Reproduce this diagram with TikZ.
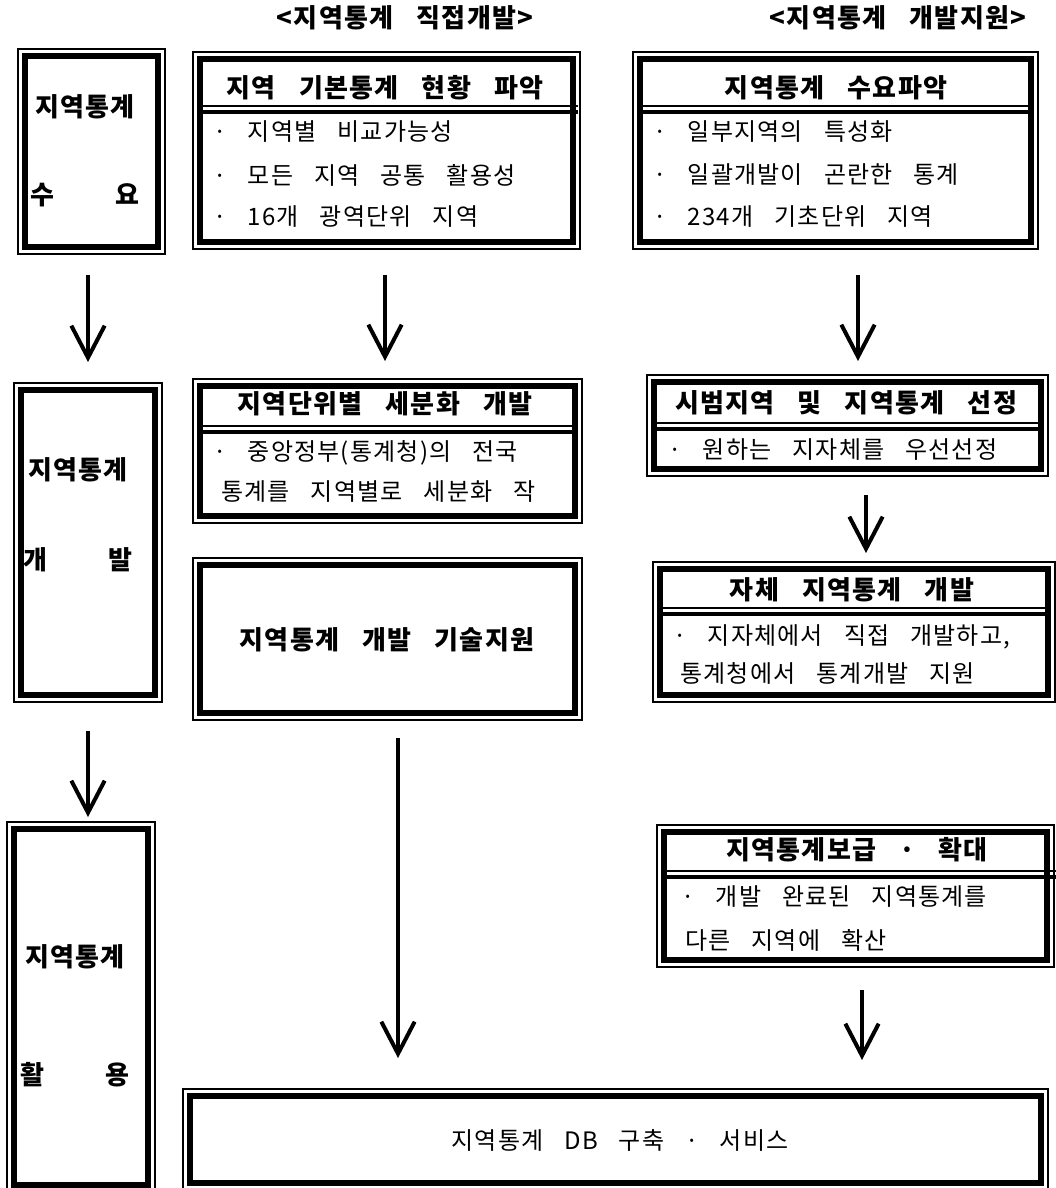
\documentclass[tikz,border=0pt]{standalone}
\usepackage{fontspec}
\setmainfont{Noto Sans CJK KR}[WordSpace=3.2,LetterSpace=5]
\usetikzlibrary{arrows.meta}
\newcommand{\px}{0.75pt}
\tikzset{
  box/.style={draw, line width=4.5pt, inner sep=0pt, outer sep=0pt},
  rim/.style={draw, line width=1pt},
  hd/.style={font=\bfseries\fontsize{19.5}{22}\selectfont, inner sep=0pt},
  txt/.style={font=\fontsize{18}{22}\selectfont, inner sep=0pt, anchor=west},
  arr/.style={line width=3pt, -{Straight Barb[length=24pt, width=25pt]}},
  cut/.style={line width=1pt},
  cutthick/.style={line width=3.5pt}
}
\begin{document}
\begin{tikzpicture}[x=0.75pt, y=-0.75pt, line join=miter]
\useasboundingbox (0,0) rectangle (1056,1188);
% headings
\node[hd] (ttl1) at (405,18) {<지역통계 직접개발>};
\node[hd] (ttl2) at (898,18) {<지역통계 개발지원>};

% left column
\node[box, minimum width=133*\px, minimum height=191*\px] (need) at (91.5,151.5) {};
\node[hd] (need1) at (85,107) {지역통계};
\node[hd] (need2) at (85,195) {\makebox[4.2em]{수\hfill 요}};
\node[box, minimum width=134*\px, minimum height=305*\px] (dev) at (88,542.5) {};
\node[hd] (dev1) at (78,470) {지역통계};
\node[hd] (dev2) at (78,560) {\makebox[4.2em]{개\hfill 발}};
\node[box, minimum width=134*\px, minimum height=356*\px] (use) at (81,1007) {};
\node[hd] (use1) at (75,957) {지역통계};
\node[hd] (use2) at (75,1075) {\makebox[4.2em]{활\hfill 용}};

% middle column
\node[box, minimum width=373*\px, minimum height=183*\px] (basic) at (386.5,150.5) {};
\node[hd] (basic0) at (385,88) {지역 기본통계 현황 파악};
\draw[cut] (basic.west |- 0,106) -- (578,106);
\draw[cutthick] (basic.west |- 0,112) -- (578,112);
\node[txt] (basic1) at (213,132) {· 지역별 비교가능성};
\node[txt] (basic2) at (213,175) {· 모든 지역 공통 활용성};
\node[txt] (basic3) at (213,217) {· 16개 광역단위 지역};

\node[box, minimum width=375*\px, minimum height=130*\px] (sub) at (387.5,451) {};
\node[hd] (sub0) at (385,404) {지역단위별 세분화 개발};
\draw[cut] (sub.west |- 0,426) -- (sub.east |- 0,426);
\draw[cutthick] (sub.west |- 0,432) -- (sub.east |- 0,432);
\node[txt] (sub1) at (213,453) {· 중앙정부(통계청)의 전국};
\node[txt] (sub2) at (221,492) {통계를 지역별로 세분화 작};

\node[box, minimum width=375*\px, minimum height=148*\px] (tech) at (387.5,639) {};
\node[hd] (tech0) at (387,640) {지역통계 개발 기술지원};

% right column
\node[box, minimum width=391*\px, minimum height=183*\px] (demand) at (835.5,150.5) {};
\node[hd] (demand0) at (836,88) {지역통계 수요파악};
\draw[cut] (demand.west |- 0,106) -- (demand.east |- 0,106);
\draw[cutthick] (demand.west |- 0,112) -- (demand.east |- 0,112);
\node[txt] (demand1) at (653,132) {· 일부지역의 특성화};
\node[txt] (demand2) at (653,175) {· 일괄개발이 곤란한 통계};
\node[txt] (demand3) at (653,217) {· 234개 기초단위 지역};

\node[box, minimum width=387*\px, minimum height=87*\px] (pilot) at (847.5,425.5) {};
\node[hd] (pilot0) at (846,403) {시범지역 및 지역통계 선정};
\draw[cut] (pilot.west |- 0,423) -- (pilot.east |- 0,423);
\draw[cutthick] (pilot.west |- 0,429) -- (pilot.east |- 0,429);
\node[txt] (pilot1) at (668,450) {· 원하는 지자체를 우선선정};

\node[box, minimum width=388*\px, minimum height=126*\px] (own) at (854,632) {};
\node[hd] (own0) at (852,590) {자체 지역통계 개발};
\draw[cut] (own.west |- 0,608) -- (own.east |- 0,608);
\draw[cutthick] (own.west |- 0,614) -- (own.east |- 0,614);
\node[txt] (own1) at (673,637) {· 지자체에서 직접 개발하고,};
\node[txt] (own2) at (680,673) {통계청에서 통계개발 지원};

\node[box, minimum width=383*\px, minimum height=128*\px] (spread) at (855.5,896) {};
\node[hd] (spread0) at (857,850) {지역통계보급 · 확대};
\draw[cut] (spread.west |- 0,871) -- (1056,871);
\draw[cutthick] (spread.west |- 0,877) -- (1056,877);
\node[txt] (spread1) at (681,897) {· 개발 완료된 지역통계를};
\node[txt] (spread2) at (685,940) {다른 지역에 확산};

% bottom
\node[box, minimum width=851*\px, minimum height=87*\px] (db) at (615.5,1139.5) {};
\node[txt, anchor=center] (db0) at (620,1140) {지역통계 DB 구축 · 서비스};

% thin outer rims
\foreach \n in {need,dev,use,basic,sub,tech,demand,pilot,own,spread,db}
  \draw[rim] ([shift={(-7,-7)}]\n.north west) rectangle ([shift={(7,7)}]\n.south east);

% arrows
\coordinate (p1) at (88,275);  \coordinate (q1) at (88,362);
\coordinate (p2) at (88,731);  \coordinate (q2) at (88,817);
\coordinate (p3) at (385,275); \coordinate (q3) at (385,361);
\coordinate (p4) at (398,738); \coordinate (q4) at (398,1058);
\coordinate (p5) at (858,275); \coordinate (q5) at (858,361);
\coordinate (p6) at (866,495); \coordinate (q6) at (866,553);
\coordinate (p7) at (862,990); \coordinate (q7) at (862,1060);
\foreach \i in {1,...,7}
  \draw[arr] (p\i) -- (q\i);
\end{tikzpicture}
\end{document}
